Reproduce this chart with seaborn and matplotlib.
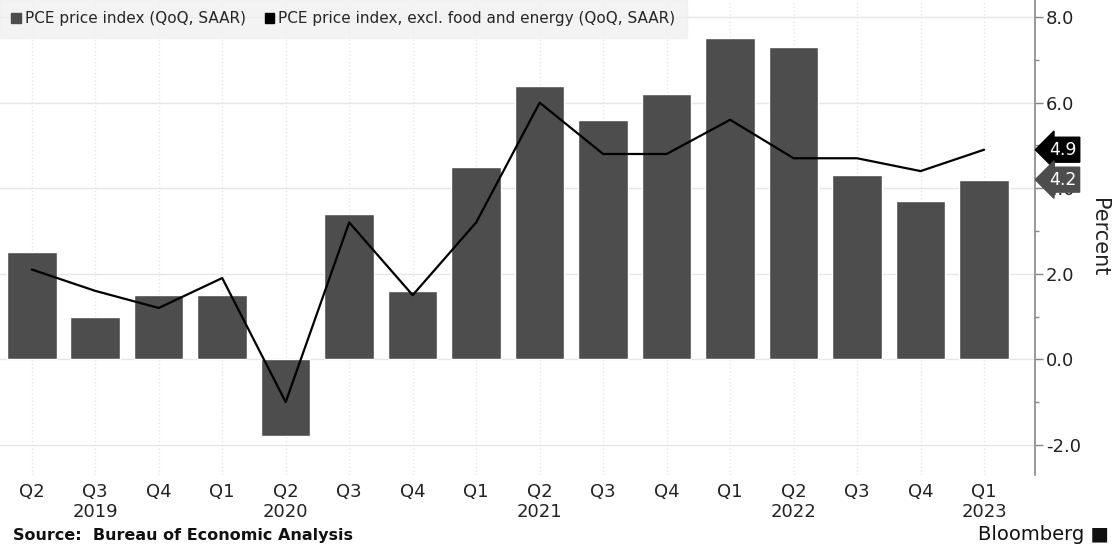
import numpy as np
import pandas as pd
import matplotlib
matplotlib.use('Agg')
import matplotlib.pyplot as plt
import seaborn as sns
from matplotlib.patches import Patch

# Quarterly data, Q2 2019 .. Q1 2023
quarters = ['Q2', 'Q3', 'Q4', 'Q1', 'Q2', 'Q3', 'Q4', 'Q1',
            'Q2', 'Q3', 'Q4', 'Q1', 'Q2', 'Q3', 'Q4', 'Q1']
years = ['', '2019', '', '', '2020', '', '', '',
         '2021', '', '', '', '2022', '', '', '2023']
pce = [2.5, 1.0, 1.5, 1.5, -1.8, 3.4, 1.6, 4.5,
       6.4, 5.6, 6.2, 7.5, 7.3, 4.3, 3.7, 4.2]
core = [2.1, 1.6, 1.2, 1.9, -1.0, 3.2, 1.5, 3.2,
        6.0, 4.8, 4.8, 5.6, 4.7, 4.7, 4.4, 4.9]

df = pd.DataFrame({'pos': range(len(pce)), 'pce': pce, 'core': core})

sns.set_style('white')
plt.rcParams['font.family'] = ['DejaVu Sans']

bar_col = '#4d4d4d'
fig = plt.figure(figsize=(11.2, 5.47), dpi=100)
ax = fig.add_axes([0.0, 0.132, 0.924, 0.868])

sns.barplot(data=df, x='pos', y='pce', color=bar_col, width=0.78,
            saturation=1, ax=ax, zorder=2)
sns.lineplot(data=df, x='pos', y='core', color='black', linewidth=1.6,
             ax=ax, zorder=3)

ax.set_xlim(-0.5, 15.8)
ax.set_ylim(-2.7, 8.4)

# right-hand axis
ax.yaxis.tick_right()
ax.yaxis.set_label_position('right')
ax.set_yticks([-2, 0, 2, 4, 6, 8])
ax.set_yticklabels(['-2.0', '0.0', '2.0', '4.0', '6.0', '8.0'],
                   fontsize=13, color='#222222')
ax.set_yticks([-1, 1, 3, 5, 7], minor=True)
ax.tick_params(axis='y', which='major', length=6, width=1, color='#888888', pad=2)
ax.tick_params(axis='y', which='minor', length=3, width=1, color='#888888')
ax.set_ylabel('Percent', rotation=270, labelpad=20, fontsize=15,
              color='#222222')

for s in ['top', 'left', 'bottom']:
    ax.spines[s].set_visible(False)
ax.spines['right'].set_color('#888888')
ax.spines['right'].set_linewidth(1.2)

ax.set_xticks(df['pos'])
ax.set_xticklabels([q + '\n' + y for q, y in zip(quarters, years)],
                   fontsize=13, color='#222222', linespacing=1.1)
ax.tick_params(axis='x', length=0, pad=6)
ax.set_xlabel('')

ax.grid(axis='y', color='#e6e6e6', linewidth=1, zorder=0)
ax.grid(axis='x', color='#e6e6e6', linewidth=1, linestyle=':', zorder=0)
ax.set_axisbelow(True)

# last-value tags on the axis (they sit over the 4.0 label, as in the original)
tags = [('4.9', core[-1], 'black'), ('4.2', pce[-1], bar_col)]
for txt, val, col in tags:
    t = ax.annotate(txt, xy=(1.0, val), xycoords=('axes fraction', 'data'),
                    xytext=(10, 0), textcoords='offset points', va='center',
                    ha='left', fontsize=12.5, color='white',
                    bbox=dict(boxstyle='larrow,pad=0.2', fc=col, ec=col))
    t.set_zorder(10)

# legend
handles = [Patch(color=bar_col), Patch(color='black')]
labels = ['PCE price index (QoQ, SAAR)',
          'PCE price index, excl. food and energy (QoQ, SAAR)']
leg = ax.legend(handles, labels, loc='upper left', bbox_to_anchor=(0.0, 1.0),
                ncol=2, frameon=True, fontsize=11, handlelength=0.6,
                handleheight=0.6, handletextpad=0.3, columnspacing=1.2,
                borderaxespad=0.0, borderpad=0.75)
leg.get_frame().set_facecolor('#f0f0f0')
leg.get_frame().set_edgecolor('#f0f0f0')
leg.get_frame().set_boxstyle('square,pad=0')
leg.set_zorder(5)

fig.text(0.012, 0.012, 'Source:  Bureau of Economic Analysis', fontsize=11.5,
         fontweight='bold', color='#111111')
fig.text(0.99, 0.012, 'Bloomberg \u25A0', fontsize=14, ha='right',
         color='#111111')

fig.savefig('out.png', dpi=100)
